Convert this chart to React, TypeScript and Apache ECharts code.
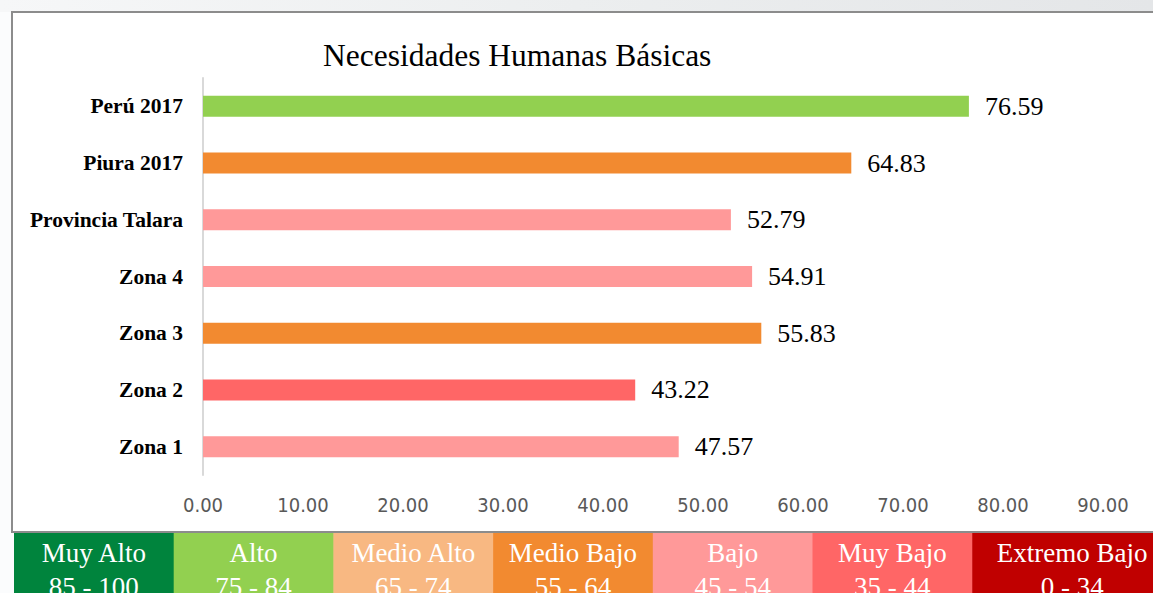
import React, { useEffect, useRef } from "react";
import * as echarts from "echarts";

const categories = ["Perú 2017", "Piura 2017", "Provincia Talara", "Zona 4", "Zona 3", "Zona 2", "Zona 1"];
const values = [76.59, 64.83, 52.79, 54.91, 55.83, 43.22, 47.57];
const barColors = ["#92D050", "#F28A30", "#FF9999", "#FF9999", "#F28A30", "#FF6666", "#FF9999"];

const levelNames = ["Muy Alto", "Alto", "Medio Alto", "Medio Bajo", "Bajo", "Muy Bajo", "Extremo Bajo"];
const levelRanges = ["85 - 100", "75 - 84", "65 - 74", "55 - 64", "45 - 54", "35 - 44", "0 - 34"];
const levelColors = ["#00843D", "#92D050", "#F8B882", "#F28A30", "#FF9999", "#FF6666", "#C00000"];

const xTicks = { min: 0, max: 90, interval: 10 };

export default function App() {
  const ref = useRef<HTMLDivElement>(null);
  useEffect(() => {
    if (!ref.current) return;
    const chart = echarts.init(ref.current, null, { renderer: "svg" });
    const serif = "'Liberation Serif', 'Times New Roman', serif";
    const boxW = 159.7;
    const boxX0 = 14;
    const legend: any[] = [];
    levelNames.forEach((name, i) => {
      const x = boxX0 + i * boxW;
      const last = i === levelNames.length - 1;
      const w = last ? 1153 - x : boxW + 0.5;
      const cx = last ? x + 100 : x + boxW / 2;
      legend.push({
        type: "rect",
        shape: { x, y: 533, width: w, height: 70 },
        style: { fill: levelColors[i] },
        z: 10,
      });
      legend.push({
        type: "text",
        x: cx,
        y: 553,
        style: { text: name, fill: "#fff", font: `27px ${serif}`, textAlign: "center", textVerticalAlign: "middle" },
        z: 11,
      });
      legend.push({
        type: "text",
        x: cx,
        y: 587,
        style: { text: levelRanges[i], fill: "#fff", font: `27px ${serif}`, textAlign: "center", textVerticalAlign: "middle" },
        z: 11,
      });
    });

    chart.setOption({
      animation: false,
      backgroundColor: "#fbfcfd",
      title: {
        text: "Necesidades Humanas Básicas",
        left: 318,
        top: 34,
        textStyle: { fontFamily: serif, fontSize: 31.5, fontWeight: "normal", color: "#000" },
      },
      grid: { left: 203, right: 50, top: 78, bottom: 118 },
      xAxis: {
        type: "value",
        min: xTicks.min,
        max: xTicks.max,
        interval: xTicks.interval,
        axisLine: { show: false },
        axisTick: { show: false },
        splitLine: { show: false },
        axisLabel: {
          formatter: (v: number) => v.toFixed(2),
          color: "#595959",
          fontSize: 20,
          fontFamily: "'DejaVu Sans Condensed', sans-serif",
          margin: 20,
        },
      },
      yAxis: {
        type: "category",
        data: categories,
        inverse: true,
        axisLine: { show: true, lineStyle: { color: "#d9d9d9", width: 2 } },
        axisTick: { show: false },
        axisLabel: {
          color: "#000",
          fontSize: 21.5,
          fontWeight: "bold",
          fontFamily: serif,
          margin: 20,
        },
      },
      series: [
        {
          type: "bar",
          data: values.map((v, i) => ({ value: v, itemStyle: { color: barColors[i] } })),
          barWidth: 21,
          label: {
            show: true,
            position: "right",
            distance: 16,
            formatter: (p: any) => p.value.toFixed(2),
            color: "#000",
            fontSize: 26,
            fontFamily: serif,
          },
        },
      ],
      graphic: [
        {
          type: "rect",
          shape: { x: 0, y: 0, width: 1153, height: 12 },
          style: {
            fill: new echarts.graphic.LinearGradient(0, 0, 1, 0, [
              { offset: 0, color: "#f6f7f8" },
              { offset: 0.5, color: "#eceeef" },
              { offset: 1, color: "#e4e6e8" },
            ]),
          },
          z: -10,
          silent: true,
        },
        {
          type: "rect",
          shape: { x: 12, y: 12, width: 1160, height: 520 },
          style: { fill: "#ffffff", stroke: "#8c8c8c", lineWidth: 2 },
          z: -5,
          silent: true,
        },
        ...legend,
      ],
    });
    return () => chart.dispose();
  }, []);
  return <div ref={ref} style={{ position: "fixed", left: 0, top: 0, width: 1153, height: 593 }} />;
}
